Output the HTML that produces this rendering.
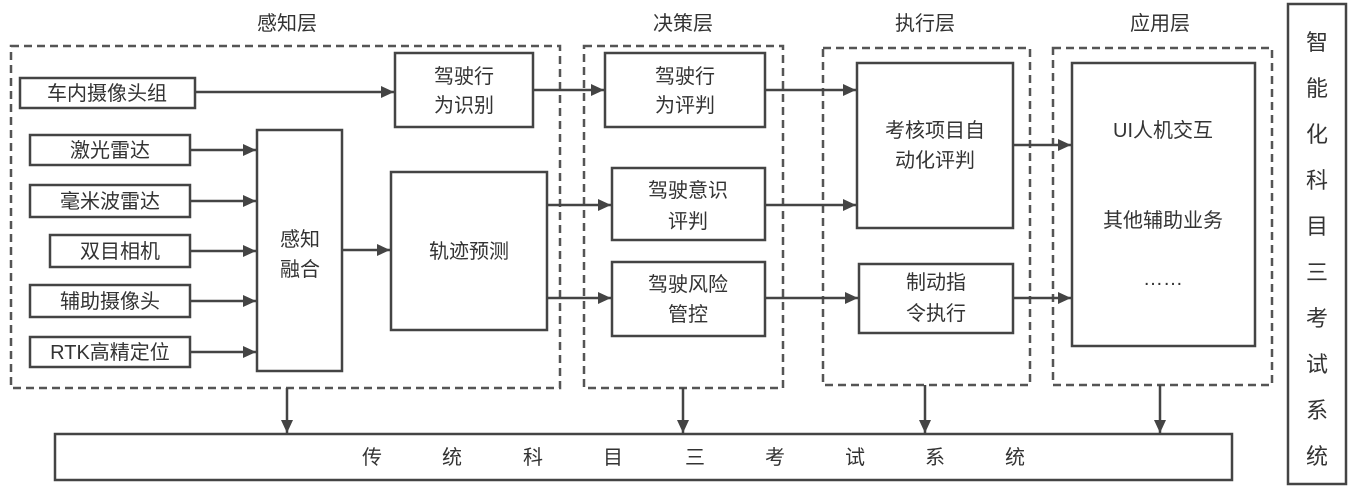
<!DOCTYPE html>
<html><head><meta charset="utf-8"><style>
body{margin:0;background:#fff}
svg text{font-family:"Liberation Sans","Noto Sans CJK SC",sans-serif;fill:#333;font-size:20px}
</style></head><body>
<svg width="1350" height="486" viewBox="0 0 1350 486" xmlns="http://www.w3.org/2000/svg">
<defs><marker id="a" markerWidth="14" markerHeight="14" refX="13" refY="6" orient="auto" markerUnits="userSpaceOnUse"><path d="M0,0 L13,6 L0,12 z" fill="#444"/></marker></defs>
<g font-size="20" text-anchor="middle">
<text x="287" y="30">感知层</text><text x="683" y="30">决策层</text><text x="925" y="30">执行层</text><text x="1160" y="30">应用层</text>
</g>
<g fill="none" stroke="#555" stroke-width="2.5" stroke-dasharray="8,5">
<rect x="11" y="46" width="549" height="342"/>
<rect x="584" y="46" width="199" height="342"/>
<rect x="823" y="48" width="207" height="337"/>
<rect x="1053" y="48" width="219" height="337"/>
</g>
<g fill="#fff" stroke="#444" stroke-width="2.5">
<rect x="20" y="78" width="175" height="30"/>
<rect x="395" y="53" width="138" height="74"/>
<rect x="30" y="135" width="160" height="30"/>
<rect x="30" y="185" width="160" height="32"/>
<rect x="50" y="235" width="140" height="32"/>
<rect x="30" y="285" width="160" height="32"/>
<rect x="30" y="337" width="160" height="30"/>
<rect x="257" y="130" width="85" height="241"/>
<rect x="391" y="172" width="156" height="158"/>
<rect x="605" y="53" width="160" height="74"/>
<rect x="612" y="168" width="153" height="72"/>
<rect x="612" y="262" width="153" height="74"/>
<rect x="857" y="63" width="156" height="165"/>
<rect x="859" y="264" width="154" height="69"/>
<rect x="1072" y="63" width="183" height="283"/>
<rect x="55" y="434" width="1177" height="46"/>
<rect x="1288" y="4" width="58" height="480"/>
</g>
<g stroke="#444" stroke-width="2.5" marker-end="url(#a)">
<line x1="195" y1="92" x2="394" y2="92"/>
<line x1="533" y1="90" x2="604" y2="90"/>
<line x1="190" y1="150" x2="256" y2="150"/>
<line x1="190" y1="201" x2="256" y2="201"/>
<line x1="190" y1="251" x2="256" y2="251"/>
<line x1="190" y1="301" x2="256" y2="301"/>
<line x1="190" y1="352" x2="256" y2="352"/>
<line x1="342" y1="250" x2="390" y2="250"/>
<line x1="547" y1="205" x2="611" y2="205"/>
<line x1="547" y1="298" x2="611" y2="298"/>
<line x1="765" y1="90" x2="856" y2="90"/>
<line x1="765" y1="205" x2="856" y2="205"/>
<line x1="765" y1="298" x2="858" y2="298"/>
<line x1="1013" y1="145" x2="1071" y2="145"/>
<line x1="1013" y1="298" x2="1071" y2="298"/>
<line x1="287" y1="388" x2="287" y2="433"/>
<line x1="683" y1="388" x2="683" y2="433"/>
<line x1="925" y1="385" x2="925" y2="433"/>
<line x1="1160" y1="385" x2="1160" y2="433"/>
</g>
<g text-anchor="middle">
<text x="107" y="100">车内摄像头组</text>
<text x="464" y="83">驾驶行</text><text x="464" y="112">为识别</text>
<text x="110" y="157">激光雷达</text>
<text x="110" y="208">毫米波雷达</text>
<text x="120" y="258">双目相机</text>
<text x="110" y="308">辅助摄像头</text>
<text x="110" y="359">RTK高精定位</text>
<text x="300" y="246">感知</text><text x="300" y="276">融合</text>
<text x="469" y="258">轨迹预测</text>
<text x="685" y="83">驾驶行</text><text x="685" y="112">为评判</text>
<text x="688" y="197">驾驶意识</text><text x="688" y="228">评判</text>
<text x="688" y="291">驾驶风险</text><text x="688" y="321">管控</text>
<text x="935" y="137">考核项目自</text><text x="935" y="167">动化评判</text>
<text x="936" y="289">制动指</text><text x="936" y="320">令执行</text>
<text x="1163" y="137">UI人机交互</text>
<text x="1163" y="227">其他辅助业务</text>
<text x="1163" y="285">……</text>
</g>
<g text-anchor="middle">
<text x="372" y="464">传</text><text x="452" y="464">统</text><text x="533" y="464">科</text><text x="613" y="464">目</text><text x="695" y="464">三</text><text x="775" y="464">考</text><text x="855" y="464">试</text><text x="935" y="464">系</text><text x="1015" y="464">统</text>
</g>
<g text-anchor="middle" style="font-size:22px">
<text x="1317" y="50" style="font-size:22px">智</text><text x="1317" y="96" style="font-size:22px">能</text><text x="1317" y="142" style="font-size:22px">化</text><text x="1317" y="188" style="font-size:22px">科</text><text x="1317" y="234" style="font-size:22px">目</text><text x="1317" y="280" style="font-size:22px">三</text><text x="1317" y="326" style="font-size:22px">考</text><text x="1317" y="372" style="font-size:22px">试</text><text x="1317" y="418" style="font-size:22px">系</text><text x="1317" y="464" style="font-size:22px">统</text>
</g>
</svg>
</body></html>
